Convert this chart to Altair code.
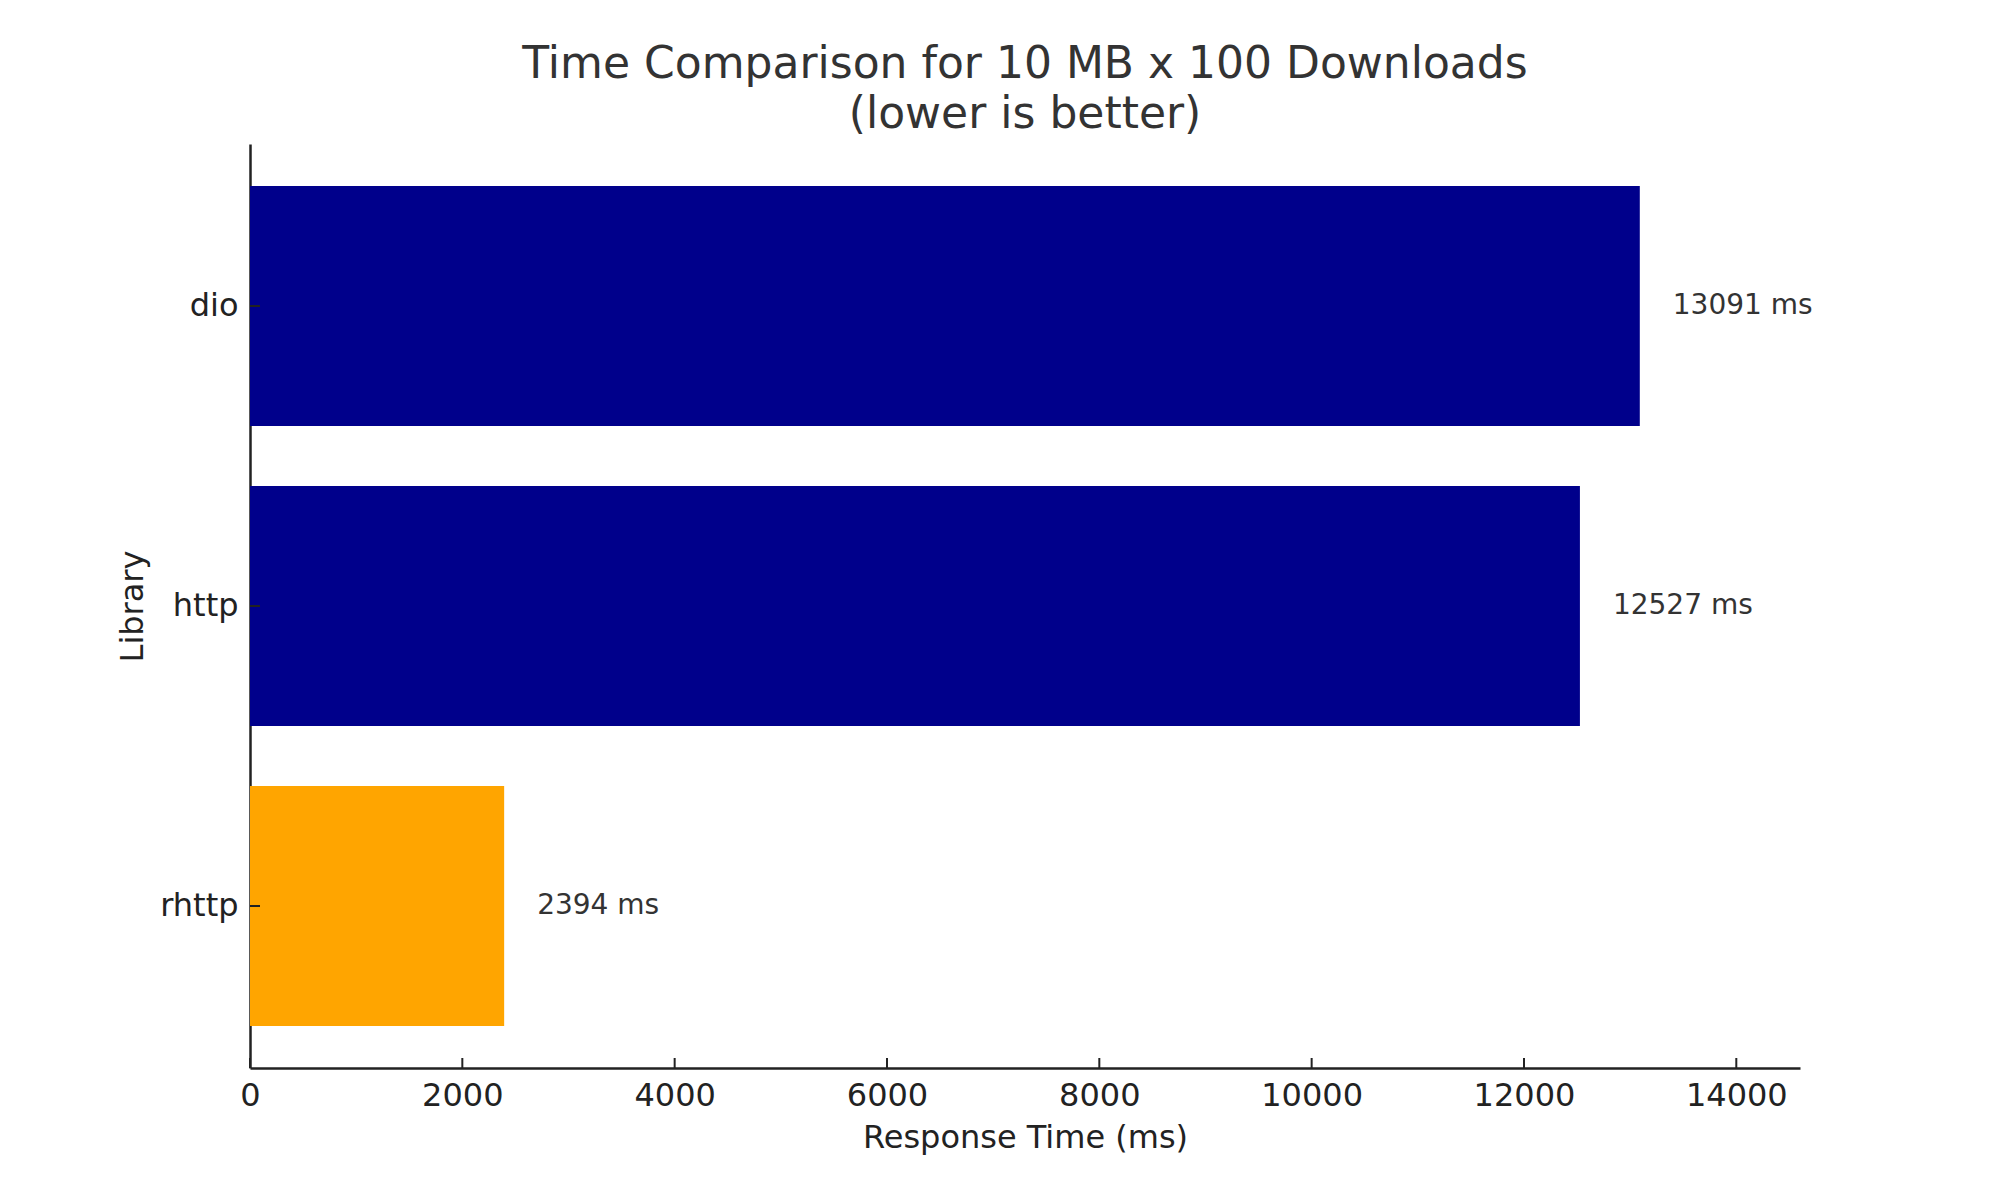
import altair as alt
import pandas as pd

libraries = ["dio", "http", "rhttp"]
times_ms = [13091, 12527, 2394]
bar_colors = ["#00008B", "#00008B", "#FFA500"]
x_ticks = [0, 2000, 4000, 6000, 8000, 10000, 12000, 14000]
title_lines = ["Time Comparison for 10 MB x 100 Downloads", "(lower is better)"]

df = pd.DataFrame({
    "Library": libraries,
    "Time": times_ms,
    "color": bar_colors,
    "label": [f"{t} ms" for t in times_ms],
})
ticks_df = pd.DataFrame({"tick": x_ticks})

FONT = "DejaVu Sans"
W, H = 1550, 924

xscale = alt.Scale(domain=[0, 14600], nice=False, zero=True)
yscale = alt.Scale(domain=libraries, paddingInner=0.2, paddingOuter=0.14)

bars = alt.Chart(df).mark_bar().encode(
    x=alt.X("Time:Q", scale=xscale,
            axis=alt.Axis(title="Response Time (ms)", values=x_ticks, format="d",
                          ticks=False, labelPadding=12, grid=False, labelFlush=False,
                          domainColor="#222222", domainWidth=2.5,
                          labelFontSize=32, labelColor="#222222", labelFont=FONT,
                          titleFontSize=32, titleColor="#222222", titleFont=FONT,
                          titleFontWeight="normal", titlePadding=11)),
    y=alt.Y("Library:N", scale=yscale, sort=libraries,
            axis=alt.Axis(title="Library", ticks=False, labelPadding=12,
                          grid=False, domainColor="#222222", domainWidth=2.5,
                          labelFontSize=32, labelColor="#222222", labelFont=FONT,
                          titleFontSize=32, titleColor="#222222", titleFont=FONT,
                          titleFontWeight="normal", titlePadding=10)),
    color=alt.Color("color:N", scale=None),
)

labels = alt.Chart(df).mark_text(
    align="left", baseline="middle", dx=33, fontSize=28, font=FONT, color="#333333"
).encode(
    x=alt.X("Time:Q", scale=xscale),
    y=alt.Y("Library:N", scale=yscale, sort=libraries),
    text="label:N",
)

xticks = alt.Chart(ticks_df).mark_rule(color="#222222", strokeWidth=2).encode(
    x=alt.X("tick:Q", scale=xscale),
    y=alt.value(H - 10),
    y2=alt.value(H),
)

yticks = alt.Chart(df).mark_rule(color="#222222", strokeWidth=2).encode(
    y=alt.Y("Library:N", scale=yscale, sort=libraries),
    x=alt.value(0),
    x2=alt.value(10),
)

chart = alt.layer(bars, labels, xticks, yticks).properties(
    width=W,
    height=H,
    background="white",
    title=alt.Title(title_lines, fontSize=44, font=FONT, fontWeight="normal",
                    color="#333333", anchor="middle", frame="group",
                    baseline="bottom", lineHeight=50, offset=7, dy=44),
    autosize=alt.AutoSizeParams(type="none"),
    padding={"left": 250, "top": 144, "right": 200, "bottom": 132},
).configure_view(stroke=None)

chart.save("out.html", embed_options={"renderer": "svg", "actions": False})
